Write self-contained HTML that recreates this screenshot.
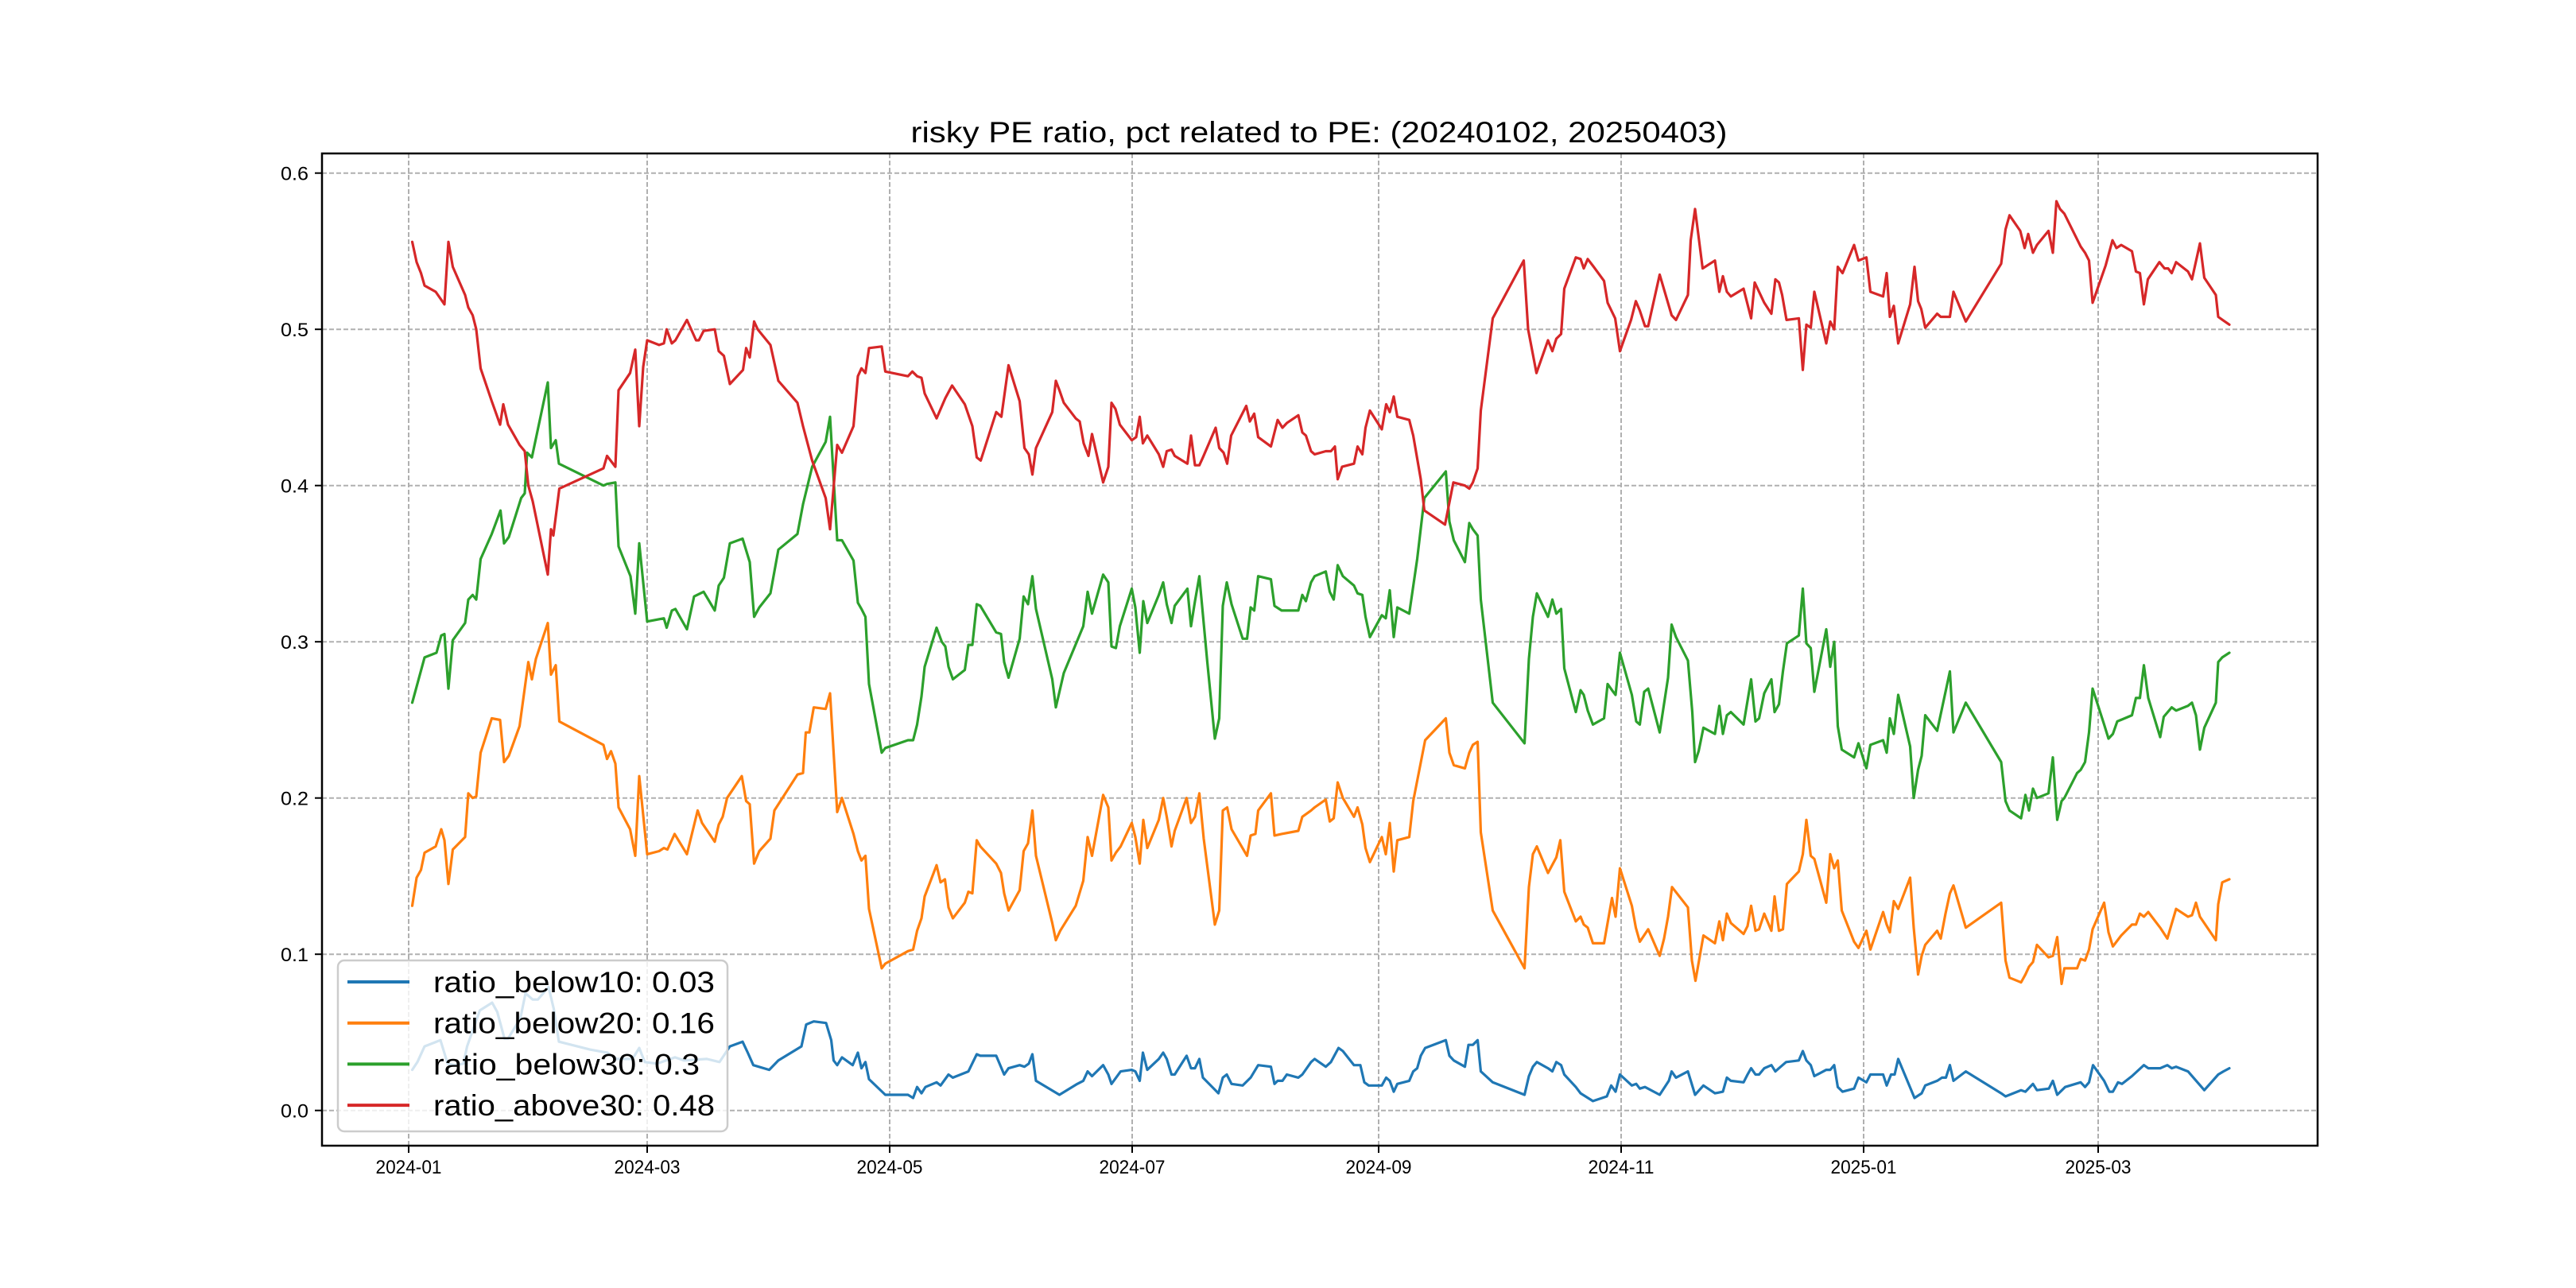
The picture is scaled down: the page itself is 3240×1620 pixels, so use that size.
<!DOCTYPE html>
<html><head><meta charset="utf-8"><style>
html,body{margin:0;padding:0;background:#fff;}
svg{display:block;}
text{font-family:"Liberation Sans","Noto Sans CJK SC",sans-serif;fill:#000;}
</style></head><body>
<svg id="chart" width="3240" height="1620" viewBox="0 0 3240 1620" xmlns="http://www.w3.org/2000/svg">
<rect x="0" y="0" width="3240" height="1620" fill="#fff"/>
<g id="grid"></g>
<g id="lines"></g>
<rect x="405" y="193" width="2510" height="1248" fill="none" stroke="#000" stroke-width="2.5"/>
<g id="ticks"></g>
<text x="1659" y="179" text-anchor="middle" font-size="37" textLength="1027" lengthAdjust="spacingAndGlyphs">risky PE ratio, pct related to PE: (20240102, 20250403)</text>
<g id="legend"></g>
</svg>
<script>
// ---- data (days since 2024-01-01) ----
const xTickLabels = ["2024-01","2024-03","2024-05","2024-07","2024-09","2024-11","2025-01","2025-03"];
const xTickDays = [0,60,121,182,244,305,366,425];
const yTickValues = [0.0,0.1,0.2,0.3,0.4,0.5,0.6];
const yTickLabels = ["0.0","0.1","0.2","0.3","0.4","0.5","0.6"];
const seriesNames = ["ratio_below10: 0.03","ratio_below20: 0.16","ratio_below30: 0.3","ratio_above30: 0.48"];

const below10Days = [0.9,2.2,4,7,8,9.8,11.6,13.8,14.7,16.5,17.9,21,22.3,24.1,25,28.1,29.4,31.2,32.5,35.2,36.5,37.8,45.6,50,52.3,56.3,58,59.4,62.5,67,69.3,75,78.2,80.8,84,85.3,86.7,90.7,93,98.8,100,101.9,105,106.3,106.9,107.8,109,111.7,113,113.9,114.9,115.8,119.9,125.6,126.9,127.9,129,130,132.8,133.8,135.8,136.9,140.8,142.9,143.8,147.8,149.8,150.9,153.7,154.9,156,156.9,157.8,163.7,168.2,169.7,170.8,171.9,174.7,176,176.8,179.1,181.9,182.8,183.9,184.7,185.8,188.7,189.8,190.7,191.9,192.7,195.7,196.8,197.8,198.9,199.8,203.7,204.8,205.8,207,209.8,211.8,213.7,216.9,217.8,218.6,219.8,220.9,223.8,224.8,227,227.9,230.7,232,233.9,235,237.8,239.4,240.4,241.5,244.8,245.9,246.8,247.8,248.7,251.7,252.7,253.7,254.6,255.7,260.9,261.8,262.9,265.7,266.6,267.7,268.9,269.7,272.7,280.7,281.8,282.8,283.8,286.6,287.7,288.7,289.9,290.7,293.6,294.8,297.9,301.4,302.5,303.6,304.7,307.7,308.8,309.7,311,314.7,317,317.7,318.8,321.8,323.6,325.7,328.6,330.6,331.6,332.6,335.8,336.8,337.7,338.8,339.7,341,342.8,343.8,344.7,346.5,349.7,350.7,351.6,352.7,353.6,356.6,357.6,358.6,359.5,360.7,363.6,364.7,366.7,367.7,370.9,371.8,372.9,373.8,374.7,378.8,380.6,381.5,384.5,385.7,386.7,387.7,388.6,391.7,400.6,401.7,405.6,406.7,408.6,409.6,412.6,413.6,414.7,416.7,420.6,421.7,422.7,423.7,426.5,427.8,428.7,430,431,433.5,436.5,437.6,440.6,442.4,443.5,444.6,447.6,451.7,455.2,456.5,458];
const below10Vals = [.026,.031,.041,.044,.045,.030,.029,.030,.041,.054,.064,.069,.063,.046,.046,.059,.075,.071,.071,.079,.065,.044,.039,.037,.033,.033,.040,.031,.030,.034,.032,.033,.031,.041,.044,.037,.029,.026,.032,.041,.055,.057,.056,.045,.032,.029,.034,.029,.037,.027,.031,.020,.010,.010,.008,.015,.011,.015,.018,.016,.023,.021,.025,.036,.035,.035,.023,.027,.029,.028,.030,.036,.019,.010,.017,.019,.025,.022,.029,.023,.017,.025,.026,.025,.019,.037,.026,.033,.037,.033,.023,.023,.035,.027,.027,.033,.021,.011,.021,.023,.017,.016,.021,.029,.028,.017,.019,.019,.023,.021,.023,.031,.033,.028,.031,.040,.038,.029,.029,.018,.016,.016,.021,.019,.012,.017,.019,.025,.027,.035,.040,.045,.035,.032,.028,.042,.042,.045,.025,.018,.010,.022,.028,.031,.027,.025,.031,.029,.023,.015,.011,.006,.009,.016,.012,.023,.016,.017,.014,.015,.010,.019,.025,.021,.025,.010,.016,.011,.012,.021,.019,.018,.023,.027,.023,.023,.027,.029,.025,.027,.031,.032,.038,.032,.029,.022,.026,.026,.029,.015,.012,.014,.021,.018,.023,.023,.016,.023,.023,.033,.008,.011,.016,.019,.021,.021,.029,.019,.025,.011,.009,.013,.012,.017,.013,.014,.019,.010,.015,.018,.015,.018,.029,.019,.012,.012,.018,.017,.022,.029,.027,.027,.029,.027,.028,.025,.013,.023,.025,.027];

const below20Days = [0.9,2,3.1,4,6.8,8.2,9,10,11.1,14.2,15,16.1,17,18.1,20.9,23,24,25.2,27.9,30.1,31,32,35,35.8,37,37.9,49,49.9,50.9,52,52.8,55.7,57,58,60,63,64.2,65.1,66.9,70,72.7,73.8,77,78,79,80.1,83.8,84.9,85.8,86.9,88.2,91,92,97.8,99.2,99.9,100.8,101.9,104.9,106,107.8,109,111.9,113,113.9,114.9,115.8,119,119.9,125.6,126.9,127.9,129,129.8,132.8,133.8,134.9,135.8,136.9,139.9,140.8,141.8,142.9,143.8,147.8,149,149.8,150.9,153.7,154.7,155.8,156.9,157.8,161.9,162.8,163.9,167.8,169.7,170.8,171.9,174.7,176,176.8,177.9,179.1,181.9,182.8,183.9,184.8,185.8,188.7,189.8,190.7,191.9,192.7,195.7,196.8,197.8,198.9,200,202.8,203.9,204.8,205.9,207,210.9,211.8,213,213.7,216.9,217.8,219.6,223.8,224.8,227,227.9,230.7,231.7,232.7,233.7,235,237.8,238.7,239.9,240.7,241.8,244.8,245.8,246.8,247.8,248.7,251.7,252.7,255.7,260.9,261.8,262.9,265.7,266.8,267.7,268.9,269.7,272.7,280.7,281.8,282.8,283.8,286.6,288.7,289.7,290.7,293.6,294.8,295.6,296.6,297.9,300.7,302.7,303.6,304.7,307.7,308.7,309.7,311.8,314.7,315.8,316.8,317.8,321.8,322.8,323.7,325.7,328.6,329.7,330.6,331.6,332.6,335.8,336.8,337.7,338.8,339.7,341,342.8,343.6,344.7,345.7,346.7,349.7,350.7,351.6,352.7,353.6,356.6,357.6,358.6,359.5,360.5,363.6,364.7,366.7,367.7,370.9,371.8,372.6,373.6,374.7,377.7,378.6,379.7,380.6,381.5,384.5,385.4,386.6,387.7,388.6,391.7,400.6,401.7,402.7,405.6,406.7,407.6,408.6,409.6,412.5,413.6,414.7,415.8,416.5,419.7,420.6,421.7,422.7,423.6,426.5,427.6,428.7,430.8,433.5,434.5,435.5,436.5,437.6,440.6,442.4,444.6,447.6,448.6,449.6,450.6,454.6,455.2,456.2,458];
const below20Vals = [.131,.149,.154,.165,.169,.180,.173,.145,.167,.175,.203,.200,.201,.229,.251,.250,.223,.227,.246,.287,.276,.289,.312,.279,.285,.249,.234,.225,.230,.222,.194,.180,.163,.214,.164,.166,.168,.167,.177,.164,.192,.184,.172,.183,.188,.200,.214,.198,.196,.158,.166,.174,.192,.215,.216,.242,.242,.258,.257,.267,.191,.200,.177,.166,.160,.163,.129,.091,.094,.102,.103,.115,.123,.137,.157,.146,.148,.130,.123,.133,.140,.139,.173,.169,.158,.152,.139,.128,.141,.166,.171,.192,.163,.120,.109,.115,.131,.147,.175,.163,.202,.194,.160,.165,.169,.184,.175,.158,.186,.168,.186,.200,.188,.169,.179,.200,.184,.188,.203,.174,.119,.128,.192,.194,.180,.163,.176,.177,.192,.203,.176,.177,.179,.188,.192,.194,.199,.185,.187,.210,.200,.188,.194,.183,.168,.159,.175,.164,.184,.153,.173,.175,.198,.237,.251,.229,.221,.219,.229,.234,.236,.178,.128,.091,.143,.164,.169,.152,.162,.173,.140,.121,.124,.119,.117,.107,.107,.136,.124,.155,.131,.117,.108,.116,.099,.110,.124,.143,.130,.096,.083,.112,.107,.121,.109,.126,.120,.113,.118,.131,.115,.116,.126,.115,.137,.115,.116,.145,.153,.164,.186,.163,.161,.133,.164,.155,.160,.128,.108,.104,.115,.103,.127,.119,.114,.134,.129,.149,.117,.087,.099,.106,.115,.110,.126,.139,.144,.117,.133,.096,.085,.082,.087,.092,.095,.106,.098,.099,.111,.081,.091,.091,.097,.096,.103,.116,.133,.114,.105,.112,.119,.119,.126,.124,.127,.117,.110,.129,.124,.125,.133,.124,.109,.132,.146,.148,.145];

const below30Days = [0.9,4,7,8.2,9,10,11.1,14.2,15,16.1,17,18.1,20.9,23.1,24,25.2,28.3,29.2,29.8,31,35,35.8,37,37.8,49,49.9,52,52.8,55.8,57,58,60,64.2,64.9,66.2,67.1,70,71.8,74.2,77,78,79.3,80.8,84,85.8,86.9,88.2,91,93,97.8,99.2,101.5,104.9,106,107.8,109,111.9,113,113.9,114.9,115.8,119,119.9,125.6,126.9,127.9,129,129.8,132.8,134.1,135,135.8,136.9,139.9,140.8,141.8,142.9,143.8,147.8,149,149.8,150.9,153.7,154.7,155.8,156.9,157.8,161.9,162.8,164.8,169.7,170.8,171.9,174.7,176,176.8,177.9,178.9,181.9,182.8,183.9,184.8,185.8,188.7,189.8,190.7,191.9,192.7,195.9,196.8,197.8,198.9,200.9,202.8,203.9,204.8,205.8,207,209.8,210.9,211.8,212.7,213.7,216.9,217.8,219.6,223.8,224.8,225.7,227,227.9,230.7,231.7,232.7,233.7,235,237.8,238.7,239.9,240.7,241.8,244.8,245.8,246.8,247.8,248.7,251.7,253.7,255.5,260.9,261.8,262.9,265.7,266.8,267.7,268.9,269.7,272.7,280.7,281.8,282.8,283.8,286.6,287.7,288.7,289.9,290.7,293.6,294.8,295.6,296.6,297.9,300.7,301.6,302.7,303.6,304.7,307.7,308.8,309.7,310.8,311.8,314.7,316.8,317.7,318.8,321.8,322.9,323.6,324.5,325.7,328.6,329.7,330.6,331.6,332.6,335.8,337.7,338.8,339.7,341,342.8,343.6,344.7,345.7,346.7,349.7,350.7,351.6,352.7,353.6,356.6,357.6,358.6,359.5,360.5,363.6,364.7,366.7,367.7,370.9,371.8,372.6,373.6,374.7,377.7,378.6,379.7,380.6,381.5,384.5,387.7,388.6,391.7,400.6,401.7,402.7,405.6,406.7,407.6,408.6,409.6,412.5,413.6,414.7,415.8,416.5,419.7,420.6,421.7,422.7,423.6,426.5,427.6,428.7,429.8,433.5,434.5,435.5,436.5,437.6,440.6,441.5,443.5,444.6,447.6,448.6,449.6,450.6,451.7,454.6,455.2,456.2,458];
const below30Vals = [.261,.290,.293,.304,.305,.270,.301,.312,.327,.330,.327,.353,.369,.384,.363,.367,.392,.395,.421,.418,.466,.424,.429,.414,.400,.401,.402,.361,.342,.318,.363,.313,.315,.309,.320,.321,.308,.329,.332,.320,.336,.341,.363,.366,.351,.316,.322,.331,.359,.369,.388,.412,.428,.444,.365,.365,.352,.325,.321,.316,.273,.229,.232,.237,.237,.247,.265,.284,.309,.300,.297,.284,.276,.282,.298,.298,.324,.323,.306,.305,.287,.277,.302,.329,.324,.342,.321,.276,.258,.280,.310,.332,.318,.343,.338,.297,.296,.310,.334,.322,.293,.326,.312,.330,.338,.324,.312,.323,.334,.310,.326,.342,.287,.238,.251,.323,.338,.324,.302,.302,.322,.320,.342,.340,.323,.320,.320,.330,.326,.338,.342,.345,.332,.327,.349,.342,.336,.331,.330,.316,.303,.317,.315,.333,.303,.322,.318,.353,.392,.409,.377,.365,.351,.376,.372,.368,.327,.261,.235,.289,.316,.331,.316,.327,.318,.321,.283,.255,.269,.266,.256,.247,.251,.273,.269,.266,.293,.266,.249,.247,.268,.270,.242,.277,.311,.303,.288,.255,.223,.230,.245,.241,.259,.241,.253,.255,.247,.276,.249,.251,.267,.276,.255,.260,.281,.299,.304,.334,.299,.296,.268,.308,.284,.300,.246,.231,.226,.235,.219,.234,.237,.229,.251,.241,.266,.233,.200,.218,.227,.253,.243,.281,.242,.261,.223,.198,.192,.187,.202,.192,.206,.200,.203,.226,.186,.198,.200,.216,.218,.223,.242,.270,.247,.238,.241,.249,.253,.264,.264,.285,.264,.239,.252,.258,.256,.259,.261,.253,.231,.245,.261,.287,.290,.293];

const above30Days = [0.9,2,3.1,4,6.8,9,10,11.1,14.2,15,16.1,17,18.1,20.9,23,23.8,25,27.9,29.2,30.1,31.2,35,35.8,36.4,37.9,49,49.9,52,52.8,55.7,57,58,59,60,63,64.2,64.9,66.2,67.1,70,72.3,73,74.2,77,78,79.3,80.8,84.1,84.9,85.8,86.9,87.8,91,93,97.8,99.2,101.5,104.9,106,107.8,109,111.9,113,113.9,114.9,115.8,119,119.9,125.6,126.7,127.9,129,129.8,132.8,135,136.7,139.9,141.8,142.9,143.9,147.8,149.1,150.9,153.7,154.9,156,156.9,157.8,161.9,162.8,163.7,164.8,167.8,168.8,169.8,171,171.9,174.7,176,176.8,177.8,178.9,181.9,183,183.9,184.7,185.8,188.7,189.8,190.7,191.9,192.7,195.9,196.8,197.8,198.9,199.8,203,203.9,205,205.9,206.9,210.7,211.6,212.7,213.7,216.9,217.8,218.6,219.8,220.9,223.8,224.8,225.7,227,227.9,230.7,232,233,233.7,234.8,237.8,238.7,239.9,240.7,241.8,244.8,245.9,246.8,247.8,248.7,251.7,252.7,254.6,255.5,260.7,262.8,265.7,266.8,267.7,268.9,269.7,272.7,280.5,281.6,283.7,286.6,287.7,288.7,289.9,290.7,293.6,294.8,295.6,296.6,298.1,300.7,301.6,303.5,304.7,307.5,308.7,309.7,311,311.8,314.7,317.7,318.8,321.8,322.5,323.6,325.5,328.6,329.7,330.6,331.6,332.6,335.8,337.7,338.6,341,342.8,343.8,344.7,345.5,346.6,349.7,350.7,351.6,352.7,353.6,356.6,357.6,358.6,359.5,360.7,363.6,364.7,366.7,367.7,370.9,371.8,372.6,373.6,374.7,377.7,378.8,379.7,380.5,381.5,384.5,385.4,386.6,387.7,388.6,391.7,400.6,401.7,402.7,405.4,406.5,407.4,408.6,409.6,412.5,413.6,414.5,415.4,416.5,420.6,421.7,422.7,423.6,426.9,428.6,429.6,430.8,433.5,434.5,435.5,436.5,437.5,440.4,441.7,442.6,443.5,444.6,447.6,448.6,450.6,451.7,454.6,455.2,456.3,458];
const above30Vals = [.556,.543,.536,.528,.524,.516,.556,.540,.522,.514,.509,.500,.475,.454,.439,.452,.439,.426,.422,.400,.390,.343,.372,.368,.398,.411,.419,.412,.461,.472,.487,.438,.476,.493,.490,.491,.500,.491,.493,.506,.493,.493,.499,.500,.486,.483,.465,.474,.488,.482,.505,.500,.490,.467,.453,.438,.416,.392,.372,.426,.421,.438,.470,.475,.472,.488,.489,.473,.470,.473,.470,.469,.459,.443,.456,.464,.452,.438,.418,.416,.447,.444,.477,.454,.424,.420,.407,.424,.447,.467,.461,.453,.443,.441,.427,.419,.433,.402,.412,.453,.449,.439,.429,.431,.444,.427,.432,.420,.412,.422,.423,.419,.414,.432,.413,.413,.418,.437,.424,.421,.414,.432,.451,.441,.446,.431,.425,.434,.442,.437,.440,.445,.434,.432,.422,.420,.422,.422,.425,.404,.412,.414,.425,.420,.437,.448,.436,.452,.447,.457,.444,.442,.432,.404,.384,.375,.402,.400,.398,.402,.411,.448,.507,.544,.500,.472,.493,.486,.494,.497,.526,.546,.545,.539,.545,.540,.531,.517,.507,.486,.506,.518,.512,.502,.502,.535,.509,.506,.522,.557,.577,.539,.544,.524,.534,.524,.521,.526,.507,.530,.517,.510,.532,.530,.522,.506,.507,.474,.503,.501,.524,.491,.505,.500,.540,.536,.554,.544,.546,.524,.521,.536,.508,.515,.491,.516,.540,.518,.513,.501,.510,.508,.508,.508,.524,.505,.542,.564,.573,.563,.552,.561,.549,.554,.563,.549,.582,.577,.574,.553,.549,.544,.517,.541,.557,.552,.554,.550,.537,.536,.516,.532,.543,.539,.539,.536,.543,.537,.532,.555,.533,.522,.508,.506,.503];

// ---- axes ----
const X0 = 514, PX_PER_DAY = 5;
const Y0 = 1396.7, PX_PER_UNIT = 1965;
function xScale(day){ return X0 + day*PX_PER_DAY; }
function yScale(v){ return Y0 - v*PX_PER_UNIT; }
const NS = "http://www.w3.org/2000/svg";
function mk(tag, attrs){ const e=document.createElementNS(NS,tag); for(const k in attrs) e.setAttribute(k, attrs[k]); return e; }

const grid = document.getElementById('grid');
const ticks = document.getElementById('ticks');
xTickDays.forEach((d,i)=>{
  const x = xScale(d);
  const g = mk('line',{x1:x,y1:193,x2:x,y2:1441,stroke:'#b0b0b0','stroke-width':2,'stroke-dasharray':'6,3'});
  
  
  grid.appendChild(g);
  const t = mk('line',{x1:x,y1:1441,x2:x,y2:1450,stroke:'#000','stroke-width':2});
  
  
  ticks.appendChild(t);
  const lb = mk('text',{x:x,y:1476,'text-anchor':'middle','font-size':24,textLength:83,lengthAdjust:'spacingAndGlyphs'});
  lb.textContent = xTickLabels[i];
  
  
  ticks.appendChild(lb);
});
yTickValues.forEach((v,i)=>{
  const y = yScale(v);
  const g = mk('line',{x1:405,y1:y,x2:2915,y2:y,stroke:'#b0b0b0','stroke-width':2,'stroke-dasharray':'6,3'});
  
  
  grid.appendChild(g);
  const t = mk('line',{x1:396,y1:y,x2:405,y2:y,stroke:'#000','stroke-width':2});
  
  
  ticks.appendChild(t);
  const lb = mk('text',{x:388,y:y+9,'text-anchor':'end','font-size':24,textLength:35,lengthAdjust:'spacingAndGlyphs'});
  lb.textContent = yTickLabels[i];
  
  
  ticks.appendChild(lb);
});

// ---- series ----
const colors = ['#1f77b4','#ff7f0e','#2ca02c','#d62728'];
const seriesDays = [below10Days,below20Days,below30Days,above30Days];
const seriesVals = [below10Vals,below20Vals,below30Vals,above30Vals];
const seriesKeys = ['below10','below20','below30','above30'];
const lines = document.getElementById('lines');
seriesDays.forEach((days,s)=>{
  const vals = seriesVals[s];
  const pts = days.map((d,i)=>xScale(d).toFixed(1)+','+yScale(vals[i]).toFixed(1)).join(' ');
  const pl = mk('polyline',{points:pts,fill:'none',stroke:colors[s],'stroke-width':3.2,'stroke-linejoin':'round','stroke-linecap':'round'});
  
  
  lines.appendChild(pl);
});

// ---- legend ----
const legend = document.getElementById('legend');
const box = mk('rect',{x:425,y:1208,width:490,height:215,rx:8,ry:8,fill:'#fff','fill-opacity':0.8,stroke:'#cccccc','stroke-width':2.5});


legend.appendChild(box);
const legendWidths = [354,354,335,354];
seriesNames.forEach((name,i)=>{
  const cy = 1235 + i*51.7;
  const ln = mk('line',{x1:437,y1:cy,x2:515,y2:cy,stroke:colors[i],'stroke-width':4});
  
  
  legend.appendChild(ln);
  const tx = mk('text',{x:545,y:cy+13,'font-size':37,textLength:legendWidths[i],lengthAdjust:'spacingAndGlyphs'});
  tx.textContent = name;
  
  
  legend.appendChild(tx);
});
</script>
</body></html>
